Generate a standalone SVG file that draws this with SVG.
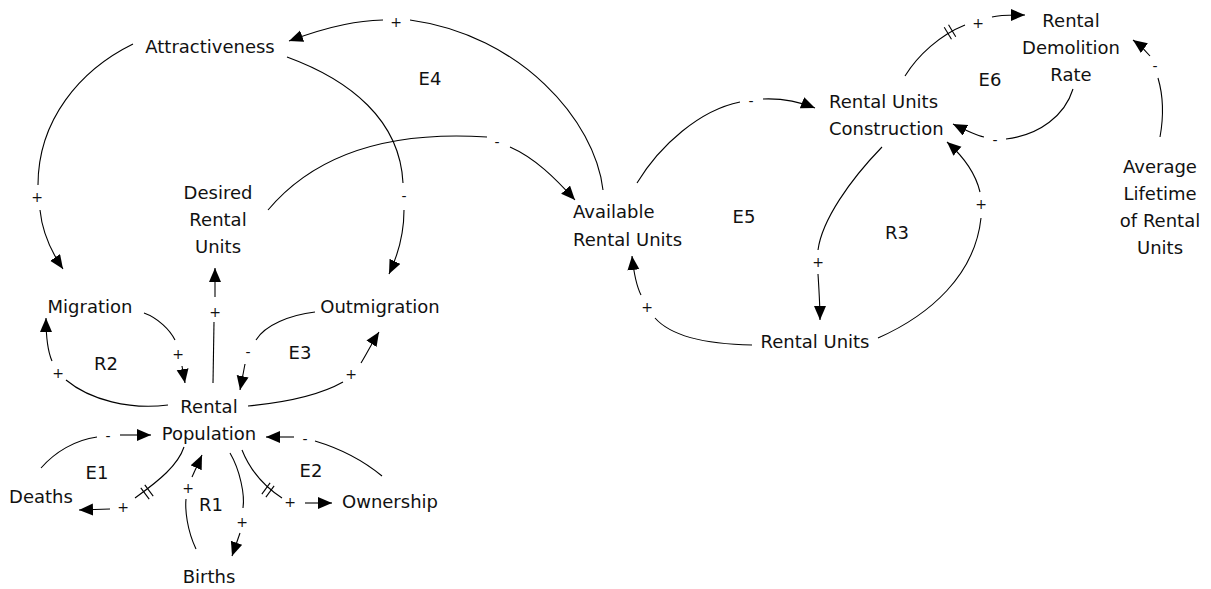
<svg xmlns="http://www.w3.org/2000/svg" width="1211" height="589" viewBox="0 0 1211 589">
<defs>
<style>
text{font-family:"DejaVu Sans","Liberation Sans",sans-serif;fill:#111}
.n{font-size:18px;text-anchor:middle}
.l{font-size:18px;text-anchor:start}
.s{font-size:14px;text-anchor:middle}
.c{fill:none;stroke:#000;stroke-width:1.1}
.a{marker-end:url(#ah)}
.d line{stroke:#000;stroke-width:1.1}
</style>
<marker id="ah" markerUnits="userSpaceOnUse" markerWidth="15" markerHeight="13" refX="14" refY="6" orient="auto">
<path d="M0,0 L14,6 L0,12 z" fill="#000"/>
</marker>
</defs>
<rect width="1211" height="589" fill="#fff"/>

<g id="connectors">
<!-- Available -> Attractiveness + -->
<path class="c" d="M603,190 C595,120 520,35 410,20"/>
<text class="s" x="396" y="27">+</text>
<path class="c a" d="M383,20 C360,21 335,24 289,41"/>
<!-- Attractiveness -> Migration + -->
<path class="c" d="M133,44 C80,70 38,120 38,185"/>
<text class="s" x="37" y="202">+</text>
<path class="c a" d="M40,210 C42,230 50,250 63,269"/>
<!-- Attractiveness -> Outmigration - -->
<path class="c" d="M287,57 C350,80 400,120 403,183"/>
<text class="s" x="404" y="201">-</text>
<path class="c a" d="M404,210 C404,235 398,255 389,274"/>
<!-- Desired -> Available - -->
<path class="c" d="M268,210 C310,160 380,130 487,137"/>
<text class="s" x="497" y="147">-</text>
<path class="c a" d="M510,147 C535,158 555,178 575,200"/>
<!-- Available -> Construction - -->
<path class="c" d="M637,183 C660,145 700,110 740,102"/>
<text class="s" x="751" y="106">-</text>
<path class="c a" d="M763,99 C785,98 800,102 815,108"/>
<!-- Construction -> Demolition + delay -->
<path class="c" d="M905,76 C918,55 940,35 965,25"/>
<g class="d" transform="translate(950,32) rotate(-31)"><line x1="-2.5" y1="-7" x2="-2.5" y2="7"/><line x1="2.5" y1="-7" x2="2.5" y2="7"/></g>
<text class="s" x="978" y="28">+</text>
<path class="c a" d="M992,17 C1000,15 1008,15 1025,15"/>
<!-- Demolition -> Construction - -->
<path class="c" d="M1073,89 C1065,115 1040,135 1006,139"/>
<text class="s" x="995" y="145">-</text>
<path class="c a" d="M984,137 C975,135 965,130 953,124"/>
<!-- Average Lifetime -> Demolition - -->
<path class="c" d="M1160,137 C1164,115 1163,95 1158,78"/>
<text class="s" x="1155" y="71">-</text>
<path class="c a" d="M1150,56 C1145,50 1140,45 1133,40"/>
<!-- Construction -> Rental Units + -->
<path class="c" d="M882,147 C850,180 822,220 818,250"/>
<text class="s" x="818" y="267">+</text>
<path class="c a" d="M818,274 C819,290 820,305 820,320"/>
<!-- Rental Units -> Construction + -->
<path class="c" d="M878,338 C930,315 975,275 981,218"/>
<text class="s" x="981" y="209">+</text>
<path class="c a" d="M980,192 C976,175 965,158 947,142"/>
<!-- Rental Units -> Available + -->
<path class="c" d="M752,345 C700,344 670,335 655,318"/>
<text class="s" x="647" y="312">+</text>
<path class="c a" d="M641,295 C637,287 634,275 632,256"/>
<!-- Rental Population -> Desired + -->
<path class="c" d="M213,383 L214,322"/>
<text class="s" x="215" y="317">+</text>
<path class="c a" d="M215,297 L215,268"/>
<!-- Rental Population -> Migration + -->
<path class="c" d="M168,405 C130,410 90,400 66,380"/>
<text class="s" x="58" y="378">+</text>
<path class="c a" d="M52,361 C48,352 46,340 46,318"/>
<!-- Migration -> Rental Population + -->
<path class="c" d="M144,313 C158,318 170,330 175,340"/>
<text class="s" x="178" y="359">+</text>
<path class="c a" d="M182,366 L185,383"/>
<!-- Outmigration -> Rental Population - -->
<path class="c" d="M315,312 C290,315 265,325 256,340"/>
<text class="s" x="248" y="357">-</text>
<path class="c a" d="M245,364 L240,390"/>
<!-- Rental Population -> Outmigration + -->
<path class="c" d="M248,406 C290,402 320,395 343,382"/>
<text class="s" x="351" y="379">+</text>
<path class="c a" d="M361,363 C366,355 372,343 379,332"/>
<!-- Deaths -> Rental Population - -->
<path class="c" d="M41,468 C55,452 75,440 97,437"/>
<text class="s" x="108" y="441">-</text>
<path class="c a" d="M120,435 L151,435"/>
<!-- Rental Population -> Deaths + delay -->
<path class="c" d="M184,447 C178,465 160,480 135,498"/>
<g class="d" transform="translate(147,492) rotate(-37)"><line x1="-2.5" y1="-7" x2="-2.5" y2="7"/><line x1="2.5" y1="-7" x2="2.5" y2="7"/></g>
<text class="s" x="123" y="512">+</text>
<path class="c a" d="M110,509 L79,510"/>
<!-- Births -> Rental Population + -->
<path class="c" d="M196,549 C187,530 185,510 186,499"/>
<text class="s" x="188" y="493">+</text>
<path class="c a" d="M192,477 L202,455"/>
<!-- Rental Population -> Births + -->
<path class="c" d="M230,453 C240,470 245,495 243,508"/>
<text class="s" x="242" y="527">+</text>
<path class="c a" d="M240,533 L232,556"/>
<!-- Rental Population -> Ownership + delay -->
<path class="c" d="M242,450 C250,470 262,485 282,498"/>
<g class="d" transform="translate(268,490) rotate(36)"><line x1="-2.5" y1="-7" x2="-2.5" y2="7"/><line x1="2.5" y1="-7" x2="2.5" y2="7"/></g>
<text class="s" x="290" y="507">+</text>
<path class="c a" d="M305,503 L332,503"/>
<!-- Ownership -> Rental Population - -->
<path class="c" d="M382,476 C365,462 345,450 315,441"/>
<text class="s" x="305" y="444">-</text>
<path class="c a" d="M294,437 L266,437"/>
</g>

<g id="attractiveness"><text class="n" x="210" y="53">Attractiveness</text></g>
<g id="desired-rental-units"><text class="n" x="218" y="199">Desired<tspan x="218" dy="27">Rental</tspan><tspan x="218" dy="27">Units</tspan></text></g>
<g id="migration"><text class="n" x="90" y="313">Migration</text></g>
<g id="outmigration"><text class="n" x="380" y="313">Outmigration</text></g>
<g id="rental-population"><text class="n" x="209" y="413">Rental<tspan x="209" dy="27">Population</tspan></text></g>
<g id="deaths"><text class="n" x="41" y="503">Deaths</text></g>
<g id="ownership"><text class="n" x="390" y="508">Ownership</text></g>
<g id="births"><text class="n" x="209" y="583">Births</text></g>
<g id="available-rental-units"><text class="l" x="573" y="218">Available<tspan x="573" dy="28">Rental Units</tspan></text></g>
<g id="rental-units"><text class="n" x="815" y="348">Rental Units</text></g>
<g id="rental-units-construction"><text class="l" x="829" y="108">Rental Units<tspan x="829" dy="27">Construction</tspan></text></g>
<g id="rental-demolition-rate"><text class="n" x="1071" y="27">Rental<tspan x="1071" dy="27">Demolition</tspan><tspan x="1071" dy="27">Rate</tspan></text></g>
<g id="average-lifetime"><text class="n" x="1160" y="173">Average<tspan x="1160" dy="27">Lifetime</tspan><tspan x="1160" dy="27">of Rental</tspan><tspan x="1160" dy="27">Units</tspan></text></g>

<g id="loop-labels">
<text class="n" x="106" y="370">R2</text>
<text class="n" x="300" y="359">E3</text>
<text class="n" x="97" y="479">E1</text>
<text class="n" x="211" y="511">R1</text>
<text class="n" x="311" y="477">E2</text>
<text class="n" x="430" y="85">E4</text>
<text class="n" x="744" y="223">E5</text>
<text class="n" x="897" y="239">R3</text>
<text class="n" x="990" y="86">E6</text>
</g>
</svg>
